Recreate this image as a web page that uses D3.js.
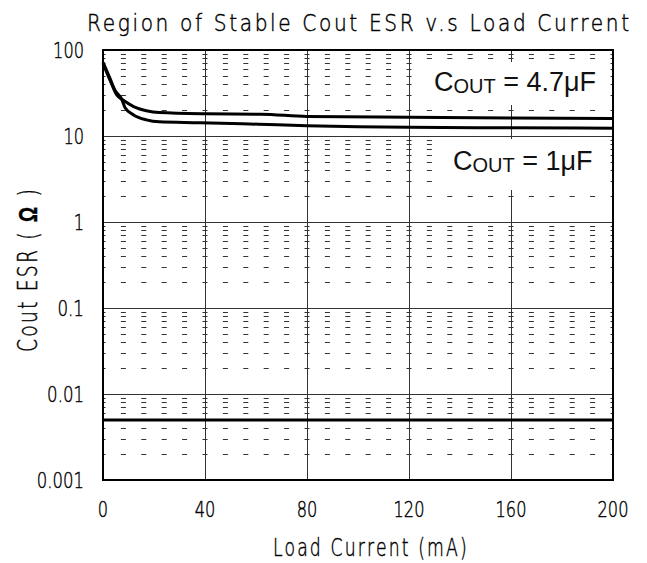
<!DOCTYPE html>
<html>
<head>
<meta charset="utf-8">
<script src="https://cdn.jsdelivr.net/npm/d3@7"></script>
<style>
  body { margin: 0; background: #fff; }
  .thin { font-family: "DejaVu Sans", sans-serif; font-weight: 200; fill: #000; stroke: #000; stroke-width: 0.45; }
</style>
</head>
<body>
<script>
// data
const xTicks = [0, 40, 80, 120, 160, 200]
const yTicks = [0.001, 0.01, 0.1, 1, 10, 100]
const yTickLabels = ["0.001", "0.01", "0.1", "1", "10", "100"]
const dashX = d3.range(0, 201, 8)
const cout47X = [0, 2.7, 5.4, 8, 12, 17, 22, 40, 62, 80, 120, 160, 200]
const cout47Y = [70, 45, 30, 26, 22, 19.7, 18.7, 18.1, 17.9, 16.9, 16.5, 16.2, 16.0]
const cout1X = [0, 2.7, 4.7, 7.3, 8.6, 12, 17, 22, 38, 61, 80, 100, 120, 160, 200]
const cout1Y = [72, 47, 34, 27, 21.5, 17.6, 15.4, 14.6, 14.3, 13.7, 13.2, 12.8, 12.6, 12.45, 12.3]
const limitY = 0.005

const width = 647
const height = 563
const plotLeft = 103, plotRight = 613, plotTop = 50, plotBottom = 480

const svg = d3.select("body")
    .append("svg")
    .attr("width", width)
    .attr("height", height)

const x = d3.scaleLinear().domain([0, 200]).range([plotLeft, plotRight])
const y = d3.scaleLog().domain([0.001, 100]).range([plotBottom, plotTop])

// width of a plotter-style label: digits ~10.3px, dots ~6px
function labelWidth(s) {
    let w = 0
    for (let c of String(s)) w += (c == ".") ? 6 : 10.3
    return w
}

// squeeze a text horizontally so it spans w pixels, starting at (x0, y0), turned by rot
function squeeze(t, x0, y0, w, rot) {
    t.attr("x", 0).attr("y", 0)
    let natural = t.node().getComputedTextLength()
    let sx = w / natural
    t.attr("transform", "translate(" + x0 + "," + y0 + ") rotate(" + rot + ") scale(" + sx + ",1)")
}

// minor horizontal dashes at 2..9 in every decade
let minorY = []
for (let e = -3; e < 2; e++) {
    for (let m = 2; m <= 9; m++) minorY.push(m * Math.pow(10, e))
}
let dashes = []
for (let v of minorY) {
    for (let d of dashX) dashes.push({v: v, d: d})
}
svg.append("g").selectAll("line")
    .data(dashes)
    .join("line")
    .attr("x1", d => Math.max(plotLeft, x(d.d) - 2.5))
    .attr("x2", d => Math.min(plotRight, x(d.d) + 2.5))
    .attr("y1", d => Math.round(y(d.v)) + 0.5)
    .attr("y2", d => Math.round(y(d.v)) + 0.5)
    .attr("stroke", "#333")
    .attr("stroke-width", 1)

// major grid
svg.append("g").selectAll("line")
    .data(yTicks.slice(1, -1))
    .join("line")
    .attr("x1", plotLeft).attr("x2", plotRight)
    .attr("y1", d => Math.round(y(d)) + 0.5)
    .attr("y2", d => Math.round(y(d)) + 0.5)
    .attr("stroke", "#333")
svg.append("g").selectAll("line")
    .data(xTicks.slice(1, -1))
    .join("line")
    .attr("x1", d => Math.round(x(d)) + 0.5)
    .attr("x2", d => Math.round(x(d)) + 0.5)
    .attr("y1", plotTop).attr("y2", plotBottom)
    .attr("stroke", "#333")

// white boxes behind the labels
svg.append("rect").attr("x", 424).attr("y", 62).attr("width", 182).attr("height", 43).attr("fill", "#fff")
svg.append("rect").attr("x", 441).attr("y", 139).attr("width", 165).attr("height", 51).attr("fill", "#fff")

// curves
const line = d3.line()
    .x(d => x(d[0]))
    .y(d => y(d[1]))
    .curve(d3.curveMonotoneX)
svg.append("path")
    .datum(d3.zip(cout47X, cout47Y))
    .attr("d", line)
    .attr("fill", "none")
    .attr("stroke", "#000")
    .attr("stroke-width", 3)
svg.append("path")
    .datum(d3.zip(cout1X, cout1Y))
    .attr("d", line)
    .attr("fill", "none")
    .attr("stroke", "#000")
    .attr("stroke-width", 3)
svg.append("line")
    .attr("x1", plotLeft).attr("x2", plotRight)
    .attr("y1", y(limitY)).attr("y2", y(limitY))
    .attr("stroke", "#000")
    .attr("stroke-width", 3)

// frame
svg.append("rect")
    .attr("x", plotLeft).attr("y", plotTop)
    .attr("width", plotRight - plotLeft).attr("height", plotBottom - plotTop)
    .attr("fill", "none")
    .attr("stroke", "#000")
    .attr("stroke-width", 2)

// tick labels
svg.append("g").selectAll("text")
    .data(yTicks)
    .join("text")
    .attr("class", "thin")
    .attr("font-size", 22)
    .attr("text-anchor", "end")
    .text((d, i) => yTickLabels[i])
    .each(function(d, i) {
        squeeze(d3.select(this), 84, y(d) + 8, labelWidth(yTickLabels[i]), 0)
    })
svg.append("g").selectAll("text")
    .data(xTicks)
    .join("text")
    .attr("class", "thin")
    .attr("font-size", 21)
    .attr("text-anchor", "middle")
    .text(d => d)
    .each(function(d) {
        squeeze(d3.select(this), x(d), 517, labelWidth(d), 0)
    })

// titles
const title = svg.append("text")
    .attr("class", "thin")
    .attr("font-size", 23)
    .attr("letter-spacing", 3)
    .text("Region of Stable Cout ESR v.s Load Current")
squeeze(title, 87, 31, 545, 0)
const xTitle = svg.append("text")
    .attr("class", "thin")
    .attr("font-size", 24)
    .attr("letter-spacing", 3)
    .text("Load Current (mA)")
squeeze(xTitle, 273, 556, 196, 0)
const yTitle = svg.append("text")
    .attr("class", "thin")
    .attr("font-size", 26)
    .attr("letter-spacing", 3)
yTitle.append("tspan").text("Cout ESR ( ")
yTitle.append("tspan").attr("font-weight", "bold").attr("font-family", "Liberation Sans").text("Ω")
yTitle.append("tspan").text(" )")
squeeze(yTitle, 37, 352, 165, -90)

// curve labels
function coutLabel(px, py, value) {
    const t = svg.append("text")
        .attr("x", px).attr("y", py)
        .attr("font-family", "Liberation Sans, Arial, sans-serif")
        .attr("font-size", 27)
        .attr("fill", "#111")
    t.append("tspan").text("C")
    t.append("tspan").attr("font-size", 20).attr("dy", 2).text("OUT")
    t.append("tspan").attr("dy", -2).text(" = " + value)
}
coutLabel(434, 91, "4.7μF")
coutLabel(453, 170, "1μF")
</script>
</body>
</html>
